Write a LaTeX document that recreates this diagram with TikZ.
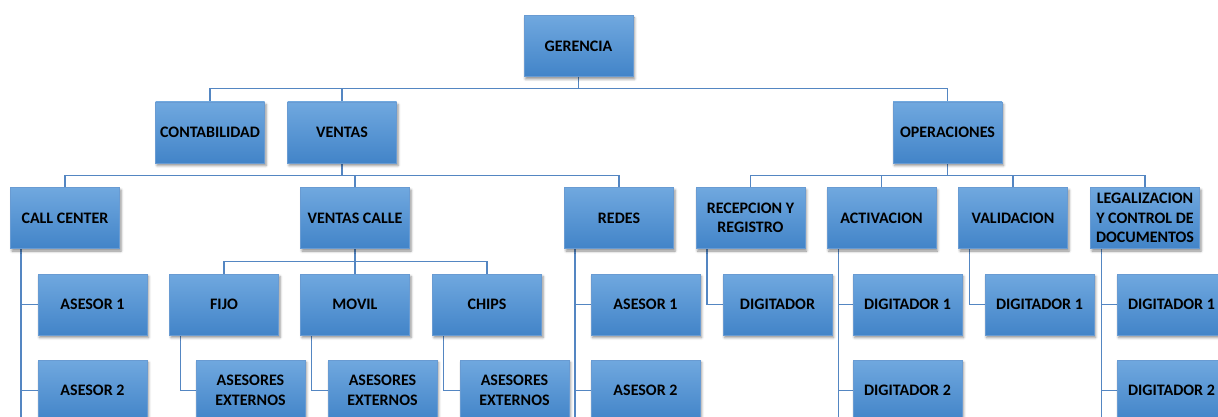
\documentclass[tikz,border=0pt]{standalone}
\usepackage{fontspec}
\setmainfont{Carlito}
\usetikzlibrary{shadows.blur,backgrounds}
\definecolor{boxtop}{RGB}{112,168,223}
\definecolor{boxbot}{RGB}{66,132,200}
\definecolor{boxedge}{RGB}{105,155,210}
\definecolor{conncol}{RGB}{84,134,194}
\newcommand{\boxfont}{\fontsize{16}{19.5}\selectfont\bfseries}
\tikzset{
  box/.style={rectangle, minimum width=109pt, minimum height=61pt, inner sep=2pt,
    top color=boxtop, bottom color=boxbot, draw=boxedge, line width=0.4pt,
    font=\boxfont, align=center, text=black,
    blur shadow={shadow xshift=1.5pt, shadow yshift=-2.5pt, shadow blur radius=2.5pt, shadow opacity=45}},
  conn/.style={draw=conncol, line width=1.4pt}
}
\begin{document}
\begin{tikzpicture}[x=1pt,y=-1pt]
\useasboundingbox (0,0) rectangle (1218,417);
\clip (0,0) rectangle (1218,417);
% level 1
\node[box] (ger) at (578.5,46) {GERENCIA};
% level 2
\node[box] (cont) at (210,132.5) {CONTABILIDAD};
\node[box] (ven) at (342,132.5) {VENTAS};
\node[box] (ops) at (947.5,132.5) {OPERACIONES};
% level 3
\node[box] (cc) at (65,218) {CALL CENTER};
\node[box] (vc) at (355,218) {VENTAS CALLE};
\node[box] (red) at (619,218) {REDES};
\node[box] (rec) at (750.5,218) {RECEPCION Y\\REGISTRO};
\node[box] (act) at (881.5,218) {ACTIVACION};
\node[box] (val) at (1013,218) {VALIDACION};
\node[box] (leg) at (1145,218) {LEGALIZACION\\Y CONTROL DE\\DOCUMENTOS};
% level 4
\node[box] (cca1) at (92.5,304.5) {ASESOR 1};
\node[box] (fijo) at (224,304.5) {FIJO};
\node[box] (mov) at (355,304.5) {MOVIL};
\node[box] (chi) at (487,304.5) {CHIPS};
\node[box] (ra1) at (645.5,304.5) {ASESOR 1};
\node[box] (dig) at (777.5,304.5) {DIGITADOR};
\node[box] (ad1) at (907.5,304.5) {DIGITADOR 1};
\node[box] (vd1) at (1039.5,304.5) {DIGITADOR 1};
\node[box] (ld1) at (1171.5,304.5) {DIGITADOR 1};
% level 5
\node[box] (cca2) at (92.5,390.5) {ASESOR 2};
\node[box] (fe) at (250.5,390.5) {ASESORES\\EXTERNOS};
\node[box] (me) at (382.5,390.5) {ASESORES\\EXTERNOS};
\node[box] (ce) at (514.5,390.5) {ASESORES\\EXTERNOS};
\node[box] (ra2) at (645.5,390.5) {ASESOR 2};
\node[box] (ad2) at (907.5,390.5) {DIGITADOR 2};
\node[box] (ld2) at (1171.5,390.5) {DIGITADOR 2};
\coordinate (ccend) at (21,417);
\coordinate (redend) at (575,417);
\coordinate (actend) at (838.5,417);
\coordinate (legend) at (1101.5,417);
\begin{scope}[on background layer]
% gerencia bus
\draw[conn] (ger.south) -- (ger.south |- 0,88.5);
\draw[conn] (cont.north) -- (cont.north |- 0,88.5) -| (ops.north);
\draw[conn] (ven.north) -- (ven.north |- 0,88.5);
% ventas bus
\draw[conn] (ven.south) -- (ven.south |- 0,175.5);
\draw[conn] (cc.north) -- (cc.north |- 0,175.5) -| (red.north);
\draw[conn] (vc.north) -- (vc.north |- 0,175.5);
% operaciones bus
\draw[conn] (ops.south) -- (ops.south |- 0,175.5);
\draw[conn] (rec.north) -- (rec.north |- 0,175.5) -| (leg.north);
\draw[conn] (act.north) -- (act.north |- 0,175.5);
\draw[conn] (val.north) -- (val.north |- 0,175.5);
% ventas calle bus
\draw[conn] (vc.south) -- (vc.south |- 0,261.5);
\draw[conn] (fijo.north) -- (fijo.north |- 0,261.5) -| (chi.north);
\draw[conn] (mov.north) -- (mov.north |- 0,261.5);
% side connectors
\draw[conn] (ccend |- cc.south) -- (ccend);
\draw[conn] (ccend |- cca1.west) -- (cca1.west);
\draw[conn] (ccend |- cca2.west) -- (cca2.west);
\draw[conn] ([xshift=11pt]fijo.south west) |- (fe.west);
\draw[conn] ([xshift=11pt]mov.south west) |- (me.west);
\draw[conn] ([xshift=11pt]chi.south west) |- (ce.west);
\draw[conn] (redend |- red.south) -- (redend);
\draw[conn] (redend |- ra1.west) -- (ra1.west);
\draw[conn] (redend |- ra2.west) -- (ra2.west);
\draw[conn] ([xshift=11pt]rec.south west) |- (dig.west);
\draw[conn] (actend |- act.south) -- (actend);
\draw[conn] (actend |- ad1.west) -- (ad1.west);
\draw[conn] (actend |- ad2.west) -- (ad2.west);
\draw[conn] ([xshift=11pt]val.south west) |- (vd1.west);
\draw[conn] (legend |- leg.south) -- (legend);
\draw[conn] (legend |- ld1.west) -- (ld1.west);
\draw[conn] (legend |- ld2.west) -- (ld2.west);
\end{scope}
\end{tikzpicture}
\end{document}
